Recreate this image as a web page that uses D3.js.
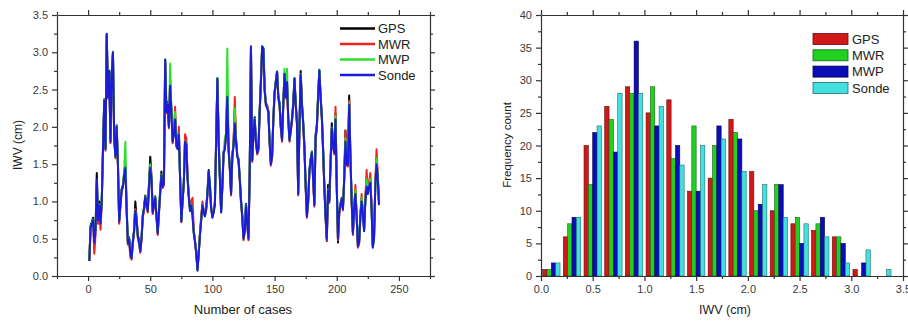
<!DOCTYPE html>
<html>
<head>
<meta charset="utf-8">
<script src="https://cdn.jsdelivr.net/npm/d3@7"></script>
<style>
body { margin: 0; background: #fff; }
text { font-family: "Liberation Sans", Arial, sans-serif; }
</style>
</head>
<body>
<svg id="chart" width="908" height="321"></svg>
<script>
// ---- data: left panel (IWV time series, case 1..234) ----
const seriesNames = ["GPS", "MWR", "MWP", "Sonde"];

const gps = [
  0.22, 0.68, 0.72, 0.78, 0.55, 0.62, 1.38, 0.80, 1.00, 0.72,
  1.02, 1.72, 2.37, 1.72, 3.24, 2.42, 2.74, 1.82, 2.72, 3.00,
  1.86, 1.62, 2.02, 1.52, 0.75, 0.97, 1.17, 1.22, 1.38, 1.50,
  0.92, 0.46, 0.52, 0.32, 0.26, 0.47, 0.62, 1.00, 0.78, 0.55,
  0.48, 0.35, 0.52, 0.82, 0.92, 1.08, 0.97, 0.90, 1.25, 1.60,
  1.34, 0.87, 0.97, 1.07, 0.82, 0.59, 0.87, 1.15, 1.40, 1.22,
  1.26, 2.90, 2.22, 2.33, 2.02, 2.60, 2.24, 1.82, 1.93, 2.15,
  1.78, 1.72, 1.92, 1.32, 0.75, 1.02, 1.26, 1.84, 1.78, 1.33,
  1.08, 0.89, 0.97, 0.85, 0.59, 0.47, 0.32, 0.09, 0.32, 0.57,
  0.77, 0.97, 0.87, 0.82, 0.92, 1.12, 1.42, 1.22, 0.92, 0.80,
  0.87, 0.97, 1.82, 2.64, 1.82, 1.32, 0.87, 1.22, 1.67, 1.72,
  1.92, 2.45, 1.72, 1.46, 1.12, 1.62, 1.77, 2.20, 1.82, 1.62,
  1.57, 1.32, 1.02, 0.82, 0.52, 0.62, 0.97, 0.72, 0.52, 1.42,
  3.06, 1.57, 1.92, 2.13, 1.82, 1.67, 1.72, 2.22, 2.62, 3.07,
  3.05, 2.52, 2.32, 2.28, 2.22, 1.82, 1.52, 1.62, 2.12, 2.47,
  2.62, 2.74, 2.42, 2.32, 2.02, 1.84, 2.32, 2.72, 2.42, 2.62,
  2.12, 1.84, 1.97, 2.11, 2.32, 2.65, 2.32, 2.07, 1.12, 2.02,
  2.75, 2.32, 2.07, 1.74, 1.22, 0.82, 1.02, 1.42, 1.57, 1.67,
  1.32, 0.97, 1.90, 2.02, 2.42, 2.76, 2.42, 2.15, 1.72, 1.22,
  0.82, 0.47, 1.22, 1.02, 1.52, 2.05, 1.77, 1.67, 2.18, 1.22,
  0.45, 0.87, 0.97, 1.05, 0.92, 1.32, 1.95, 1.52, 1.51, 2.42,
  1.62, 1.02, 0.59, 0.92, 1.15, 0.82, 0.42, 0.47, 0.82, 1.05,
  0.84, 0.62, 1.02, 1.30, 1.12, 1.22, 1.30, 0.92, 0.40, 0.52,
  1.22, 1.58, 1.32, 0.97
];

const mwr = [
  0.20, 0.62, 0.68, 0.72, 0.30, 0.55, 1.20, 0.70, 0.90, 0.62,
  0.98, 1.68, 2.33, 1.68, 3.22, 2.38, 2.72, 1.78, 2.68, 2.98,
  1.83, 1.58, 1.98, 1.48, 0.70, 0.93, 1.13, 1.18, 1.33, 1.48,
  0.88, 0.42, 0.47, 0.25, 0.22, 0.43, 0.58, 0.90, 0.73, 0.51,
  0.43, 0.31, 0.48, 0.78, 0.88, 1.04, 0.93, 0.85, 1.18, 1.48,
  1.28, 0.83, 0.93, 1.03, 0.78, 0.55, 0.83, 1.10, 1.33, 1.18,
  1.22, 2.88, 2.18, 2.28, 1.98, 2.62, 2.18, 1.78, 1.92, 2.27,
  1.73, 1.72, 2.00, 1.35, 0.72, 1.02, 1.22, 1.90, 1.85, 1.35,
  1.08, 0.90, 1.00, 1.05, 0.62, 0.47, 0.30, 0.08, 0.32, 0.58,
  0.80, 1.00, 0.88, 0.80, 0.88, 1.08, 1.38, 1.18, 0.88, 0.85,
  0.90, 1.00, 1.85, 2.62, 1.85, 1.35, 0.88, 1.18, 1.63, 1.72,
  1.88, 2.50, 1.68, 1.43, 1.08, 1.58, 1.80, 2.40, 1.85, 1.62,
  1.53, 1.28, 0.98, 0.78, 0.48, 0.58, 0.93, 0.68, 0.48, 1.38,
  3.05, 1.53, 1.88, 2.08, 1.78, 1.63, 1.68, 2.18, 2.58, 3.05,
  3.03, 2.48, 2.28, 2.30, 2.18, 1.78, 1.48, 1.58, 2.08, 2.43,
  2.58, 2.72, 2.38, 2.28, 1.98, 1.80, 2.28, 2.69, 2.38, 2.58,
  2.08, 1.80, 1.93, 2.07, 2.28, 2.63, 2.28, 2.03, 1.08, 1.98,
  2.68, 2.28, 2.03, 1.70, 1.18, 0.78, 0.98, 1.38, 1.53, 1.63,
  1.28, 0.93, 1.83, 1.98, 2.38, 2.74, 2.38, 2.11, 1.68, 1.18,
  0.78, 0.48, 1.13, 0.98, 1.48, 1.96, 1.73, 1.63, 2.27, 1.18,
  0.48, 0.83, 0.93, 1.01, 0.88, 1.28, 1.95, 1.48, 1.47, 2.35,
  1.58, 0.98, 0.55, 0.88, 1.22, 0.78, 0.38, 0.43, 0.78, 1.10,
  0.85, 0.65, 1.05, 1.42, 1.15, 1.25, 1.38, 0.95, 0.40, 0.55,
  1.25, 1.70, 1.35, 1.00
];

const mwp = [
  0.21, 0.66, 0.71, 0.76, 0.48, 0.61, 1.28, 0.76, 0.96, 0.71,
  1.01, 1.71, 2.36, 1.71, 3.23, 2.41, 2.76, 1.81, 2.71, 3.01,
  1.86, 1.61, 2.01, 1.51, 0.74, 0.96, 1.16, 1.21, 1.40, 1.80,
  0.91, 0.45, 0.51, 0.31, 0.25, 0.46, 0.61, 0.88, 0.76, 0.54,
  0.46, 0.34, 0.51, 0.81, 0.91, 1.07, 0.96, 0.88, 1.21, 1.50,
  1.31, 0.86, 0.96, 1.06, 0.81, 0.58, 0.86, 1.13, 1.36, 1.21,
  1.25, 2.91, 2.21, 2.31, 2.01, 2.85, 2.21, 1.81, 1.91, 2.20,
  1.76, 1.71, 1.91, 1.31, 0.74, 1.01, 1.25, 1.81, 1.76, 1.31,
  1.06, 0.88, 0.96, 0.81, 0.58, 0.46, 0.31, 0.08, 0.31, 0.56,
  0.76, 0.96, 0.86, 0.81, 0.91, 1.11, 1.40, 1.21, 0.91, 0.79,
  0.86, 0.96, 1.81, 2.66, 1.81, 1.31, 0.86, 1.21, 1.66, 1.85,
  1.91, 3.05, 1.71, 1.46, 1.11, 1.61, 1.76, 2.25, 1.81, 1.61,
  1.58, 1.31, 1.01, 0.81, 0.51, 0.61, 0.96, 0.71, 0.51, 1.41,
  3.07, 1.56, 1.91, 2.11, 1.81, 1.66, 1.71, 2.21, 2.61, 3.08,
  3.06, 2.51, 2.31, 2.26, 2.21, 1.81, 1.51, 1.61, 2.11, 2.46,
  2.61, 2.75, 2.41, 2.31, 2.01, 1.83, 2.31, 2.78, 2.41, 2.78,
  2.11, 1.83, 1.96, 2.10, 2.31, 2.66, 2.31, 2.06, 1.11, 2.01,
  2.71, 2.31, 2.06, 1.73, 1.21, 0.81, 1.01, 1.41, 1.56, 1.66,
  1.31, 1.00, 1.86, 2.01, 2.41, 2.77, 2.41, 2.14, 1.71, 1.21,
  0.81, 0.51, 1.16, 1.01, 1.51, 1.99, 1.76, 1.66, 2.15, 1.21,
  0.51, 0.86, 0.96, 1.04, 0.91, 1.31, 1.85, 1.51, 1.50, 2.32,
  1.61, 1.01, 0.58, 0.91, 1.15, 0.81, 0.41, 0.46, 0.81, 1.05,
  0.83, 0.61, 1.01, 1.30, 1.11, 1.21, 1.30, 0.91, 0.39, 0.51,
  1.21, 1.58, 1.31, 0.96
];

const sonde = [
  0.20, 0.65, 0.70, 0.75, 0.45, 0.60, 1.30, 0.75, 0.95, 0.70,
  1.00, 1.70, 2.35, 1.70, 3.25, 2.40, 2.75, 1.80, 2.70, 3.00,
  1.85, 1.60, 2.00, 1.50, 0.73, 0.95, 1.15, 1.20, 1.35, 1.45,
  0.90, 0.44, 0.50, 0.30, 0.24, 0.45, 0.60, 0.87, 0.75, 0.53,
  0.45, 0.33, 0.50, 0.80, 0.90, 1.06, 0.95, 0.87, 1.20, 1.45,
  1.30, 0.85, 0.95, 1.05, 0.80, 0.57, 0.85, 1.12, 1.35, 1.20,
  1.24, 2.90, 2.20, 2.30, 2.00, 2.55, 2.20, 1.80, 1.90, 2.10,
  1.75, 1.70, 1.90, 1.30, 0.73, 1.00, 1.24, 1.80, 1.75, 1.30,
  1.05, 0.87, 0.95, 0.80, 0.57, 0.45, 0.30, 0.07, 0.30, 0.55,
  0.75, 0.95, 0.85, 0.80, 0.90, 1.10, 1.40, 1.20, 0.90, 0.78,
  0.85, 0.95, 1.80, 2.65, 1.80, 1.30, 0.85, 1.20, 1.65, 1.70,
  1.90, 2.40, 1.70, 1.45, 1.10, 1.60, 1.75, 2.05, 1.80, 1.60,
  1.55, 1.30, 1.00, 0.80, 0.50, 0.60, 0.95, 0.70, 0.50, 1.40,
  3.08, 1.55, 1.90, 2.10, 1.80, 1.65, 1.70, 2.20, 2.60, 3.08,
  3.05, 2.50, 2.30, 2.25, 2.20, 1.80, 1.50, 1.60, 2.10, 2.45,
  2.60, 2.74, 2.40, 2.30, 2.00, 1.82, 2.30, 2.71, 2.40, 2.60,
  2.10, 1.82, 1.95, 2.09, 2.30, 2.65, 2.30, 2.05, 1.10, 2.00,
  2.70, 2.30, 2.05, 1.72, 1.20, 0.80, 1.00, 1.40, 1.55, 1.65,
  1.30, 0.95, 1.85, 2.00, 2.40, 2.76, 2.40, 2.13, 1.70, 1.20,
  0.80, 0.50, 1.15, 1.00, 1.50, 1.98, 1.75, 1.65, 2.10, 1.20,
  0.50, 0.85, 0.95, 1.03, 0.90, 1.30, 1.80, 1.50, 1.49, 2.30,
  1.60, 1.00, 0.57, 0.90, 1.10, 0.80, 0.40, 0.45, 0.80, 1.00,
  0.82, 0.60, 1.00, 1.20, 1.10, 1.20, 1.25, 0.90, 0.38, 0.50,
  1.20, 1.50, 1.30, 0.95
];

// ---- data: right panel (histogram, bins of 0.2 cm) ----
const binStarts = [0.0, 0.2, 0.4, 0.6, 0.8, 1.0, 1.2, 1.4, 1.6, 1.8, 2.0, 2.2, 2.4, 2.6, 2.8, 3.0, 3.2];
const histGPS   = [1, 6, 20, 26, 29, 25, 27, 13, 15, 24, 16, 10, 8, 7, 6, 1, 0];
const histMWR   = [1, 8, 14, 24, 28, 29, 18, 23, 20, 22, 10, 14, 9, 8, 6, 0, 0];
const histMWP   = [2, 9, 22, 19, 36, 23, 20, 13, 23, 21, 11, 14, 5, 9, 5, 2, 0];
const histSonde = [2, 9, 23, 28, 28, 26, 17, 20, 21, 16, 14, 9, 8, 6, 2, 4, 1];

const lineXTicks = [0, 50, 100, 150, 200, 250];
const lineXMinor = [-25, 25, 75, 125, 175, 225, 275];
const lineYTicks = [0, 0.5, 1.0, 1.5, 2.0, 2.5, 3.0, 3.5];
const lineYMinor = [0.25, 0.75, 1.25, 1.75, 2.25, 2.75, 3.25];
const histXTicks = [0, 0.5, 1.0, 1.5, 2.0, 2.5, 3.0, 3.5];
const histXMinor = [0.25, 0.75, 1.25, 1.75, 2.25, 2.75, 3.25];
const histYTicks = [0, 5, 10, 15, 20, 25, 30, 35, 40];
const histYMinor = [2.5, 7.5, 12.5, 17.5, 22.5, 27.5, 32.5, 37.5];

const lineColors = { GPS: "#000000", MWR: "#ee2424", MWP: "#2ee02e", Sonde: "#1c1cd8" };
const barColors  = { GPS: "#d01818", MWR: "#22d022", MWP: "#0c0cb8", Sonde: "#44e0e0" };
const barStroke  = { GPS: "#6a0a0a", MWR: "#136613", MWP: "#06064a", Sonde: "#1d6e6e" };

const svg = d3.select("#chart");

function drawFrame(g, x, y, xMajor, xMinor, yMajor, yMinor, xFmt, yFmt) {
  const [xl, xr] = x.range();
  const [yb, yt] = y.range();
  const axes = [
    { ax: d3.axisBottom(x), t: `translate(0,${yb})`, maj: xMajor, min: xMinor, fmt: xFmt },
    { ax: d3.axisTop(x), t: `translate(0,${yt})`, maj: xMajor, min: xMinor, fmt: () => "" },
    { ax: d3.axisLeft(y), t: `translate(${xl},0)`, maj: yMajor, min: yMinor, fmt: yFmt },
    { ax: d3.axisRight(y), t: `translate(${xr},0)`, maj: yMajor, min: yMinor, fmt: () => "" }
  ];
  axes.forEach(a => {
    const gm = g.append("g").attr("transform", a.t)
      .call(a.ax.tickValues(a.min).tickSize(3).tickSizeOuter(0).tickFormat(""));
    gm.select(".domain").remove();
    const axisG = g.append("g").attr("transform", a.t)
      .call(a.ax.tickValues(a.maj).tickSize(5).tickSizeOuter(0).tickPadding(4).tickFormat(a.fmt));
    axisG.selectAll("text").style("font-size", "11px").attr("fill", "#3a3a3a");
  });
  g.selectAll(".domain, .tick line").attr("stroke", "#333").attr("stroke-width", 1.2);
}

// ---------- left panel: line chart ----------
const xL = d3.scaleLinear().domain([-25, 275]).range([57, 430]);
const yL = d3.scaleLinear().domain([0, 3.5]).range([276, 15]);
const gL = svg.append("g");

const lineData = { GPS: gps, MWR: mwr, MWP: mwp, Sonde: sonde };
const line = d3.line()
  .x((d, i) => xL(i + 1))
  .y(d => yL(d));

seriesNames.forEach(name => {
  gL.append("path")
    .datum(lineData[name])
    .attr("fill", "none")
    .attr("stroke", lineColors[name])
    .attr("stroke-width", 2)
    .attr("stroke-linejoin", "round")
    .attr("d", line);
});

drawFrame(gL, xL, yL, lineXTicks, lineXMinor, lineYTicks, lineYMinor,
  d3.format("d"), d3.format(".1f"));

gL.append("text")
  .attr("transform", "translate(22,145) rotate(-90)")
  .attr("text-anchor", "middle")
  .style("font-size", "12px")
  .attr("fill", "#222")
  .text("IWV (cm)");

gL.append("text")
  .attr("x", 243).attr("y", 314)
  .attr("text-anchor", "middle")
  .style("font-size", "13px")
  .attr("fill", "#222")
  .text("Number of cases");

const legL = gL.selectAll(".legL")
  .data(seriesNames)
  .enter().append("g")
  .attr("transform", (d, i) => `translate(340,${28.5 + i * 15.5})`);
legL.append("line")
  .attr("x1", 0).attr("x2", 35)
  .attr("stroke", d => lineColors[d])
  .attr("stroke-width", 2.5);
legL.append("text")
  .attr("x", 38).attr("dy", "0.36em")
  .style("font-size", "13px")
  .attr("fill", "#222")
  .text(d => d);

// ---------- right panel: histogram ----------
const xR = d3.scaleLinear().domain([0, 3.5]).range([541, 903]);
const yR = d3.scaleLinear().domain([0, 40]).range([276, 15]);
const gR = svg.append("g");

const histData = { GPS: histGPS, MWR: histMWR, MWP: histMWP, Sonde: histSonde };
const inner = d3.scaleBand().domain(seriesNames).range([0.016, 0.184]);

seriesNames.forEach(name => {
  gR.selectAll(".bar-" + name)
    .data(binStarts)
    .enter().append("rect")
    .filter((d, i) => histData[name][i] > 0)
    .attr("x", d => xR(d + inner(name)))
    .attr("width", d => xR(d + inner(name) + inner.bandwidth()) - xR(d + inner(name)))
    .attr("y", (d, i) => yR(histData[name][binStarts.indexOf(d)]))
    .attr("height", d => yR(0) - yR(histData[name][binStarts.indexOf(d)]))
    .attr("fill", barColors[name])
    .attr("stroke", barStroke[name])
    .attr("stroke-width", 0.6);
});

drawFrame(gR, xR, yR, histXTicks, histXMinor, histYTicks, histYMinor,
  d3.format(".1f"), d3.format("d"));

gR.append("text")
  .attr("transform", "translate(511,145) rotate(-90)")
  .attr("text-anchor", "middle")
  .style("font-size", "11.5px")
  .attr("fill", "#222")
  .text("Frequency count");

gR.append("text")
  .attr("x", 725).attr("y", 314)
  .attr("text-anchor", "middle")
  .style("font-size", "12.5px")
  .attr("fill", "#222")
  .text("IWV (cm)");

const legR = gR.selectAll(".legR")
  .data(seriesNames)
  .enter().append("g")
  .attr("transform", (d, i) => `translate(813,${33.5 + i * 16.3})`);
legR.append("rect")
  .attr("width", 35).attr("height", 11)
  .attr("fill", d => barColors[d])
  .attr("stroke", d => barStroke[d])
  .attr("stroke-width", 0.8);
legR.append("text")
  .attr("x", 39).attr("y", 5.5).attr("dy", "0.36em")
  .style("font-size", "13px")
  .attr("fill", "#222")
  .text(d => d);
</script>
</body>
</html>
